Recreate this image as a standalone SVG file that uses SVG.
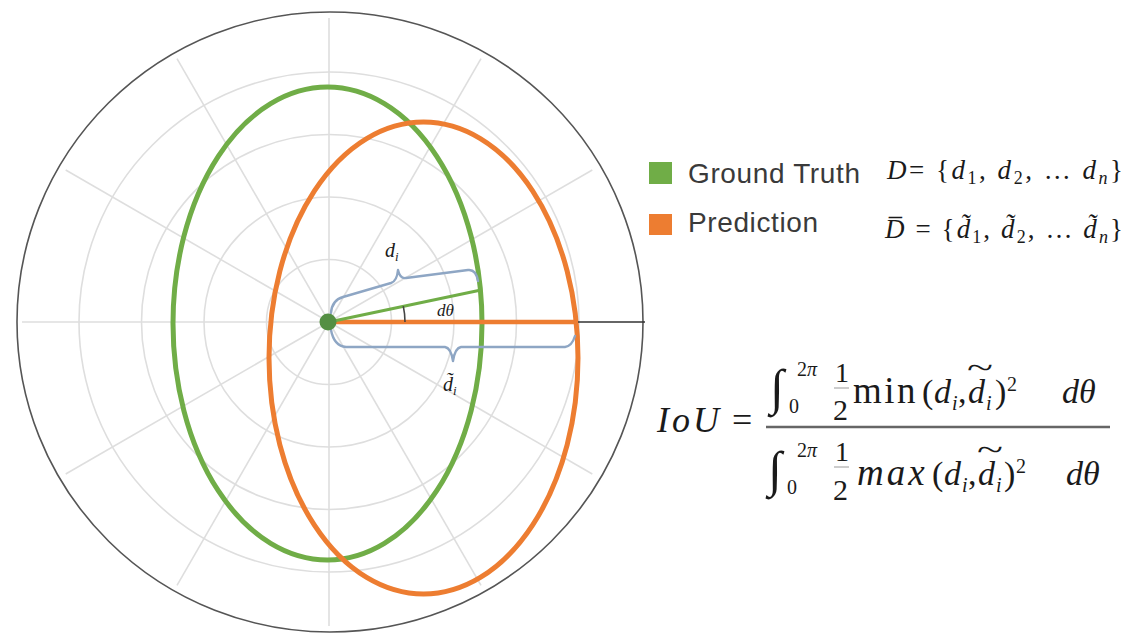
<svg xmlns="http://www.w3.org/2000/svg" width="1133" height="635" viewBox="0 0 1133 635">
<style>
.grid{fill:none;stroke:#dedede;stroke-width:1.6}
.spoke{stroke:#dedede;stroke-width:1.6}
.brace{fill:none;stroke:#8EA6C4;stroke-width:2.4;stroke-linejoin:round;stroke-linecap:round}
.math{font-family:"Liberation Serif","DejaVu Serif",serif;fill:#1a1a1a}
.it{font-style:italic}
.leg{font-family:"Liberation Sans","Open Sans",sans-serif;font-size:28px;fill:#3a3a3a}
</style>
<rect width="1133" height="635" fill="#ffffff"/>
<g id="polar-grid">
  <circle class="grid" cx="329" cy="322" r="62.5"/>
  <circle class="grid" cx="329" cy="322" r="125"/>
  <circle class="grid" cx="329" cy="322" r="187.5"/>
  <circle class="grid" cx="329" cy="322" r="250"/>
  <line class="spoke" x1="329" y1="322" x2="592.3" y2="170"/>
  <line class="spoke" x1="329" y1="322" x2="481" y2="58.7"/>
  <line class="spoke" x1="329" y1="322" x2="329" y2="18"/>
  <line class="spoke" x1="329" y1="322" x2="177" y2="58.7"/>
  <line class="spoke" x1="329" y1="322" x2="65.7" y2="170"/>
  <line class="spoke" x1="329" y1="322" x2="22" y2="322"/>
  <line class="spoke" x1="329" y1="322" x2="65.7" y2="474"/>
  <line class="spoke" x1="329" y1="322" x2="177" y2="585.3"/>
  <line class="spoke" x1="329" y1="322" x2="329" y2="626"/>
  <line class="spoke" x1="329" y1="322" x2="481" y2="585.3"/>
  <line class="spoke" x1="329" y1="322" x2="592.3" y2="474"/>
  <ellipse cx="330" cy="322" rx="313" ry="310" fill="none" stroke="#555555" stroke-width="1.6"/>
</g>
<g id="ground-truth-shape">
  <ellipse cx="327.5" cy="323.5" rx="154.5" ry="236.5" fill="none" stroke="#70AD47" stroke-width="5"/>
</g>
<g id="prediction-shape">
  <ellipse cx="423.5" cy="358" rx="154.5" ry="236" fill="none" stroke="#ED7D31" stroke-width="5"/>
</g>
<g id="connectors">
  <line x1="578" y1="322" x2="645" y2="322" stroke="#333333" stroke-width="1.6"/>
  <line x1="329" y1="322" x2="578" y2="322" stroke="#ED7D31" stroke-width="4.5"/>
  <line x1="329" y1="322" x2="481" y2="290" stroke="#70AD47" stroke-width="3"/>
  <path d="M405 322 A77 77 0 0 0 403.3 306.1" fill="none" stroke="#444444" stroke-width="1.6"/>
  <path class="brace" d="M331 313 Q332 300 343 297 L391 283 Q397 281 398 270 Q400 279 406 278 L468 270 Q476 269 478 281"/>
  <path class="brace" d="M331 330 Q334 346 346 347 L445 347 Q451 348 453 361 Q455 348 461 347 L565 347 Q572 346 575 336"/>
  <circle cx="328" cy="322" r="8.5" fill="#548F43"/>
</g>
<g id="labels">
  <text class="math it" x="385" y="257" font-size="20">d<tspan font-size="13" dy="4">i</tspan></text>
  <text class="math it" x="437" y="316" font-size="17">dθ</text>
  <text class="math it" x="443" y="391" font-size="20">d̃<tspan font-size="13" dy="4">i</tspan></text>
</g>
<g id="legend-ground-truth">
  <rect x="649" y="162" width="23" height="22" fill="#70AD47"/>
  <text class="leg" x="688" y="183" textLength="172">Ground Truth</text>
  <text class="math" x="887" y="179" font-size="27" textLength="236"><tspan class="it">D</tspan>= {<tspan class="it">d</tspan><tspan font-size="18" dy="5">1</tspan><tspan dy="-5">, </tspan><tspan class="it">d</tspan><tspan font-size="18" dy="5">2</tspan><tspan dy="-5">, … </tspan><tspan class="it">d</tspan><tspan class="it" font-size="18" dy="5">n</tspan><tspan dy="-5">}</tspan></text>
</g>
<g id="legend-prediction">
  <rect x="649" y="214" width="23" height="21" fill="#ED7D31"/>
  <text class="leg" x="688" y="232" textLength="130">Prediction</text>
  <text class="math" x="885" y="238" font-size="27" textLength="238"><tspan class="it">D̅</tspan> = {<tspan class="it">d̃</tspan><tspan font-size="18" dy="5">1</tspan><tspan dy="-5">, </tspan><tspan class="it">d̃</tspan><tspan font-size="18" dy="5">2</tspan><tspan dy="-5">, … </tspan><tspan class="it">d̃</tspan><tspan class="it" font-size="18" dy="5">n</tspan><tspan dy="-5">}</tspan></text>
</g>
<g id="iou-formula" class="math">
  <text class="it" x="657" y="432" font-size="36" letter-spacing="3">IoU</text>
  <text x="732" y="432" font-size="36">=</text>
  <line x1="766" y1="427" x2="1110" y2="427" stroke="#666666" stroke-width="2.5"/>
  <!-- numerator -->
  <text x="770" y="404" font-size="50">∫</text>
  <text x="789" y="413" font-size="20">0</text>
  <text x="797" y="376" font-size="20">2<tspan class="it">π</tspan></text>
  <text x="835" y="382" font-size="28">1</text>
  <line x1="834" y1="388" x2="849" y2="388" stroke="#9a9a9a" stroke-width="1"/>
  <text x="833" y="420" font-size="30">2</text>
  <text x="853" y="403" font-size="37" letter-spacing="2.5">min</text>
  <text x="922" y="403" font-size="34">(</text>
  <text class="it" x="934" y="403" font-size="34">d<tspan x="952" y="410" font-size="20">i</tspan></text>
  <text x="958" y="403" font-size="34">,</text>
  <text class="it" x="968" y="403" font-size="34">d<tspan x="986" y="410" font-size="20">i</tspan></text>
  <text x="967" y="378" font-size="30" textLength="26" lengthAdjust="spacingAndGlyphs">~</text>
  <text x="995" y="403" font-size="34">)</text>
  <text x="1007" y="391" font-size="20">2</text>
  <text class="it" x="1062" y="403" font-size="34">dθ</text>
  <!-- denominator -->
  <text x="768" y="486" font-size="50">∫</text>
  <text x="787" y="494" font-size="20">0</text>
  <text x="797" y="457" font-size="20">2<tspan class="it">π</tspan></text>
  <text x="835" y="461" font-size="28">1</text>
  <line x1="834" y1="467" x2="849" y2="467" stroke="#9a9a9a" stroke-width="1"/>
  <text x="833" y="500" font-size="30">2</text>
  <text class="it" x="857" y="485" font-size="37" letter-spacing="3">max</text>
  <text x="932" y="485" font-size="34">(</text>
  <text class="it" x="944" y="485" font-size="34">d<tspan x="962" y="492" font-size="20">i</tspan></text>
  <text x="968" y="485" font-size="34">,</text>
  <text class="it" x="978" y="485" font-size="34">d<tspan x="996" y="492" font-size="20">i</tspan></text>
  <text x="977" y="460" font-size="30" textLength="26" lengthAdjust="spacingAndGlyphs">~</text>
  <text x="1004" y="485" font-size="34">)</text>
  <text x="1016" y="473" font-size="20">2</text>
  <text class="it" x="1066" y="485" font-size="34">dθ</text>
</g>
</svg>
